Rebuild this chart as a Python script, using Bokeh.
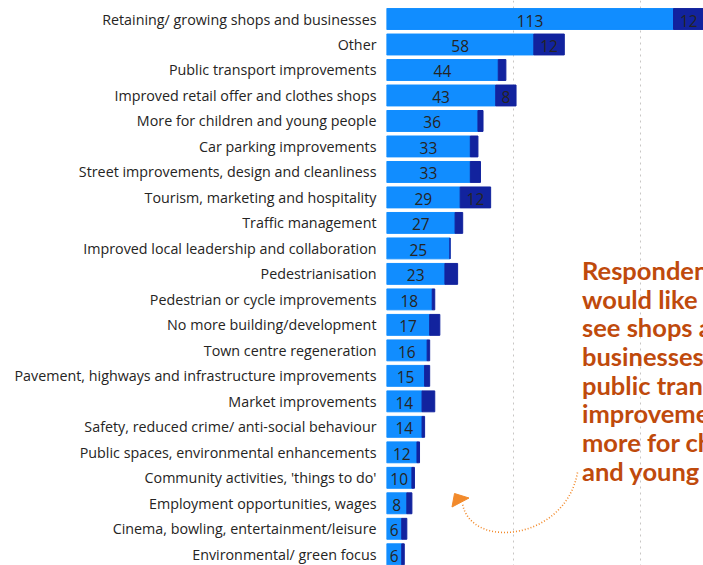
from bokeh.plotting import figure
from bokeh.models import ColumnDataSource, Range1d, FixedTicker, Grid
from bokeh.core.properties import value
from bokeh.embed import file_html
from bokeh.resources import INLINE

categories = [
    "Retaining/ growing shops and businesses",
    "Other",
    "Public transport improvements",
    "Improved retail offer and clothes shops",
    "More for children and young people",
    "Car parking improvements",
    "Street improvements, design and cleanliness",
    "Tourism, marketing and hospitality",
    "Traffic management",
    "Improved local leadership and collaboration",
    "Pedestrianisation",
    "Pedestrian or cycle improvements",
    "No more building/development",
    "Town centre regeneration",
    "Pavement, highways and infrastructure improvements",
    "Market improvements",
    "Safety, reduced crime/ anti-social behaviour",
    "Public spaces, environmental enhancements",
    "Community activities, 'things to do'",
    "Employment opportunities, wages",
    "Cinema, bowling, entertainment/leisure",
    "Environmental/ green focus",
]
series_a = [113, 58, 44, 43, 36, 33, 33, 29, 27, 25, 23, 18, 17, 16, 15, 14, 14, 12, 10, 8, 6, 6]
series_b = [12, 12, 3, 8, 2, 3, 4, 12, 3, 0, 5, 1, 4, 1, 2, 5, 1, 1, 1, 2, 2, 1]
grid_ticks = [50, 100]

note_lines = [
    "Respondents",
    "would like to",
    "see shops and",
    "businesses,",
    "public transport",
    "improvements and",
    "more for children",
    "and young people.",
]

LIGHT = "#118DFF"
DARK = "#12239E"
TXT = "#252423"

idx = list(range(len(categories)))
ends = [a + b for a, b in zip(series_a, series_b)]
src = ColumnDataSource(dict(
    y=idx, a=series_a, b=series_b, end=ends,
    a_mid=[a / 2 for a in series_a],
    b_mid=[a + b / 2 for a, b in zip(series_a, series_b)],
    a_lab=[str(a) for a in series_a],
    b_lab=[str(b) if b >= 8 else "" for b in series_b],
))

p = figure(width=703, height=565, output_backend="svg", toolbar_location=None,
           x_range=Range1d(0, 124.8), y_range=Range1d(21.44, -0.726),
           x_axis_location=None, min_border_left=386, min_border_right=0,
           min_border_top=0, min_border_bottom=0)
p.outline_line_color = None
p.center = [r for r in p.center if not isinstance(r, Grid)]
p.extra_x_ranges = {"px": Range1d(386, 703)}
p.extra_y_ranges = {"px": Range1d(565, 0)}

g = Grid(dimension=0, ticker=FixedTicker(ticks=grid_ticks), grid_line_color="#C8C6C4",
         grid_line_dash="2 4", grid_line_width=1)
p.add_layout(g)

ax = p.yaxis[0]
ax.ticker = FixedTicker(ticks=idx)
ax.major_label_overrides = {i: c for i, c in enumerate(categories)}
ax.axis_line_color = None
ax.major_tick_line_color = None
ax.minor_tick_line_color = None
ax.major_tick_out = 0
ax.major_tick_in = 0
ax.major_label_standoff = 10
ax.major_label_text_font = "Open Sans"
ax.major_label_text_font_size = "14.3px"
ax.major_label_text_color = TXT

p.hbar(y="y", left=0, right="a", height=0.82, color=LIGHT, source=src)
p.hbar(y="y", left="a", right="end", height=0.82, color=DARK, source=src)

p.text(x="a_mid", y="y", text="a_lab", source=src, text_align="center",
       text_baseline="middle", text_font=value("Open Sans"), text_font_size="15.5px",
       text_color=TXT, y_offset=1.5)
p.text(x="b_mid", y="y", text="b_lab", source=src, text_align="center",
       text_baseline="middle", text_font=value("Open Sans"), text_font_size="15.5px",
       text_color=TXT, y_offset=1.5)

# annotation
base0 = 269.3
step = 28.7
p.text(x=[581.5] * len(note_lines), y=[base0 + i * step for i in range(len(note_lines))],
       text=note_lines, text_align="left", text_baseline="alphabetic",
       text_font=value("Lato"), text_font_style="bold", text_font_size="25.5px",
       text_color="#BF4A0C", x_range_name="px", y_range_name="px")

p.bezier(x0=[577], y0=[472], x1=[462], y1=[503], cx0=[565], cy0=[540], cx1=[470], cy1=[550],
         line_color="#F28A2B", line_width=1.6, line_dash="1 2",
         x_range_name="px", y_range_name="px")
p.patch(x=[454, 468.5, 451.5], y=[493, 497.5, 506.5], color="#F28A2B",
        x_range_name="px", y_range_name="px")

open("out.html", "w").write(file_html(p, INLINE))
